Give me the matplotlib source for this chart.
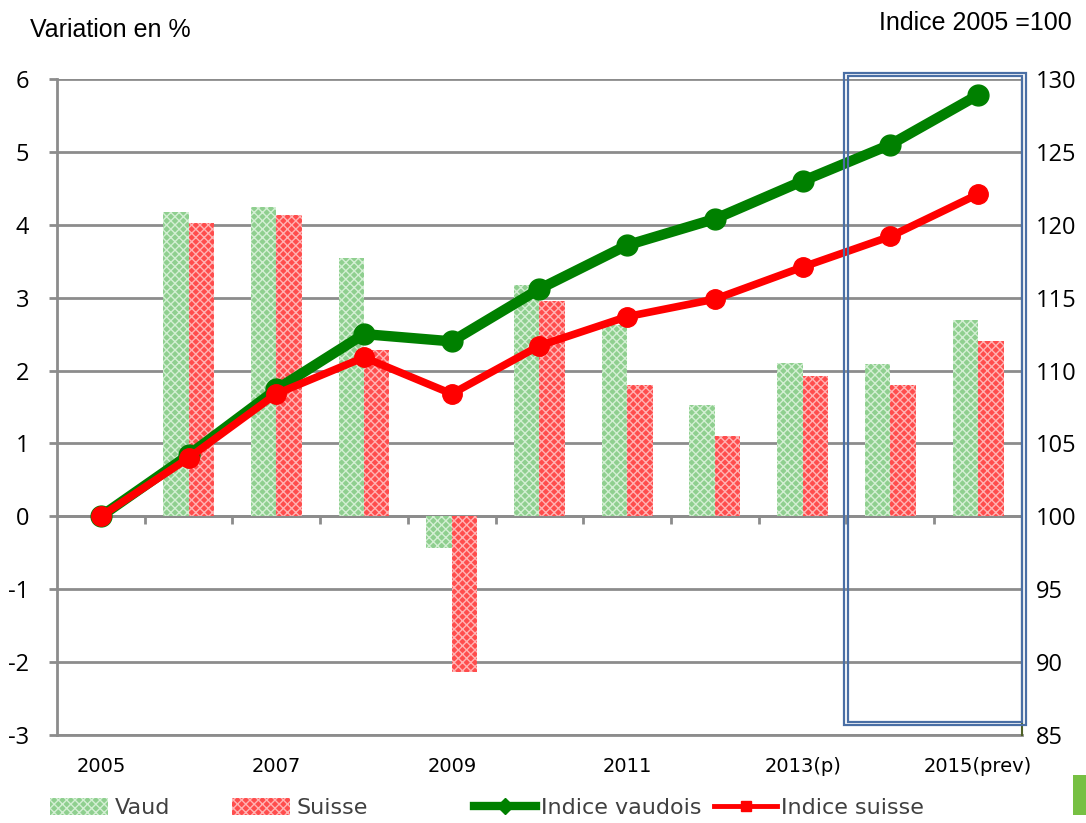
import numpy as np
import matplotlib
matplotlib.use("agg")
import matplotlib.pyplot as plt
from matplotlib.patches import Patch, Rectangle
from matplotlib.lines import Line2D

years = ["2005", "2006", "2007", "2008", "2009", "2010", "2011", "2012", "2013(p)", "2014", "2015(prev)"]
var_vaud = [0, 4.17, 4.25, 3.55, -0.44, 3.18, 2.62, 1.53, 2.10, 2.09, 2.70]
var_suisse = [0, 4.02, 4.14, 2.28, -2.13, 2.95, 1.80, 1.10, 1.92, 1.80, 2.40]
ind_vaud = [100, 104.2, 108.7, 112.5, 112.0, 115.6, 118.6, 120.4, 123.0, 125.5, 128.9]
ind_suisse = [100, 104.0, 108.4, 110.9, 108.4, 111.7, 113.7, 114.9, 117.1, 119.2, 122.1]

num_font = ["Open Sans", "DejaVu Sans"]
narrow = ["Liberation Sans Narrow", "DejaVu Sans Condensed", "DejaVu Sans"]
plt.rcParams["font.family"] = ["Liberation Sans", "DejaVu Sans"]
plt.rcParams["axes.unicode_minus"] = False

fig = plt.figure(figsize=(10.86, 8.23), dpi=100)
ax = fig.add_axes([0.0525, 0.107, 0.8885, 0.797])
grey = "#8c8c8c"

x = np.arange(len(years))
w = 0.29
ax.bar(x - w / 2, var_vaud, w, facecolor="#8fcf8f", edgecolor="#d4efd4",
       hatch="xxxx", linewidth=0, zorder=2)
ax.bar(x + w / 2, var_suisse, w, facecolor="#ff4d4d", edgecolor="#ffb3b3",
       hatch="xxxx", linewidth=0, zorder=2)

ax.set_xlim(-0.5, len(years) - 0.5)
ax.set_ylim(-3, 6)
ax.set_yticks(range(-3, 7))
ax.grid(axis="y", color=grey, linewidth=2, zorder=0)
ax.set_axisbelow(True)
ax.axhline(0, color=grey, linewidth=2, zorder=1)
# tick marks on the zero line between categories
ax.vlines(np.arange(0.5, len(years) - 0.5), -0.1, 0, color=grey, linewidth=2, zorder=1)

ax.set_xticks(x[::2])
ax.set_xticklabels(years[::2], fontfamily=narrow, fontsize=14)
ax.tick_params(axis="x", length=0, pad=16)
ax.tick_params(axis="y", length=6, width=2, color=grey, labelsize=17, pad=14)
for lab in ax.get_yticklabels():
    lab.set_fontfamily(num_font)
for s in ["top", "right"]:
    ax.spines[s].set_visible(False)
ax.spines["left"].set_color(grey)
ax.spines["left"].set_linewidth(2)
ax.spines["bottom"].set_color(grey)
ax.spines["bottom"].set_linewidth(2)

ax2 = ax.twinx()
ax2.set_ylim(85, 130)
ax2.set_yticks(range(85, 131, 5))
ax2.plot(x, ind_vaud, color="#008000", linewidth=7.5, marker="o", markersize=15, zorder=4)
ax2.plot(x, ind_suisse, color="#ff0000", linewidth=5.5, marker="o", markersize=14, zorder=5)
ax2.tick_params(axis="y", length=0, labelsize=17, pad=10)
for lab in ax2.get_yticklabels():
    lab.set_fontfamily(num_font)
for s in ["top", "left", "bottom"]:
    ax2.spines[s].set_visible(False)
ax2.spines["right"].set_color("#4f6228")
ax2.spines["right"].set_linewidth(1.5)

# forecast box (double line)
for pad in [0.0, 0.045]:
    ax2.add_patch(Rectangle((8.47 + pad, 85.65 + pad * 5), 2.08 - 2 * pad, 44.75 - pad * 10,
                            fill=False, edgecolor="#4a6fa5", linewidth=1.6,
                            clip_on=False, zorder=6))

fig.text(0.028, 0.963, "Variation en %", fontsize=18, va="center")
fig.text(0.987, 0.972, "Indice 2005 =100", fontsize=18, va="center", ha="right")

bar_handles = [Patch(facecolor="#8fcf8f", edgecolor="#d4efd4", hatch="xxxx", linewidth=0),
               Patch(facecolor="#ff4d4d", edgecolor="#ffb3b3", hatch="xxxx", linewidth=0)]
fig.legend(bar_handles, ["Vaud", "Suisse"], loc="center left",
           bbox_to_anchor=(0.028, 0.018), ncol=2, frameon=False,
           prop={"family": narrow, "size": 16}, handlelength=2.6,
           handleheight=0.8, columnspacing=2.8, handletextpad=0.3,
           labelcolor="#404040")
line_handles = [Line2D([], [], color="#008000", linewidth=6, marker="D", markersize=8),
                Line2D([], [], color="#ff0000", linewidth=3.5, marker="s", markersize=7)]
fig.legend(line_handles, ["Indice vaudois", "Indice suisse"], loc="center left",
           bbox_to_anchor=(0.418, 0.018), ncol=2, frameon=False,
           prop={"family": narrow, "size": 16}, handlelength=2.8,
           columnspacing=0.6, handletextpad=0.2, labelcolor="#404040")
fig.add_artist(Rectangle((0.988, 0.01), 0.02, 0.048, transform=fig.transFigure,
                         facecolor="#77c043", edgecolor="none"))

fig.savefig("out.png", dpi=100)
